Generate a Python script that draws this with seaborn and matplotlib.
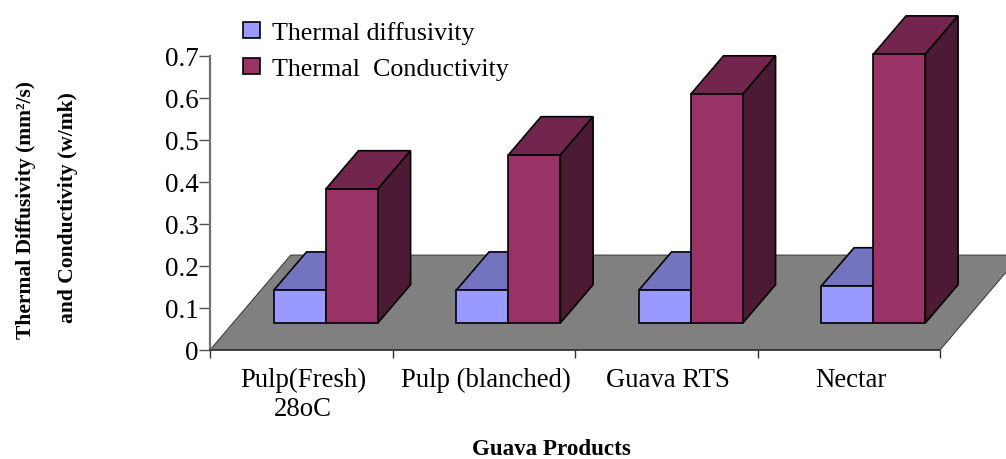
import pandas as pd
import matplotlib.pyplot as plt
from matplotlib.patches import Polygon
from matplotlib.transforms import ScaledTranslation
import seaborn as sns

# values are the bar heights
products = ["Pulp(Fresh)\n28oC", "Pulp (blanched)", "Guava RTS", "Nectar"]
diffusivity = [0.078, 0.078, 0.078, 0.088]
conductivity = [0.319, 0.40, 0.545, 0.64]
series_names = ["Thermal diffusivity", "Thermal  Conductivity"]
y_ticks = [0, 0.1, 0.2, 0.3, 0.4, 0.5, 0.6, 0.7]
y_tick_labels = ["0", "0.1", "0.2", "0.3", "0.4", "0.5", "0.6", "0.7"]

df = pd.DataFrame({
    "product": products * 2,
    "series": [series_names[0]] * 4 + [series_names[1]] * 4,
    "value": diffusivity + conductivity,
})

sns.set_theme(style="white")
plt.rcParams["font.family"] = ["Liberation Serif", "DejaVu Serif"]

W, H = 1006, 460
fig = plt.figure(figsize=(W / 100, H / 100), dpi=100)
ax = fig.add_axes([210 / W, 1 - 351 / H, 730 / W, 294 / H])

# front faces
palette = {series_names[0]: "#9999FF", series_names[1]: "#993366"}
sns.barplot(data=df, x="product", y="value", hue="series", hue_order=series_names,
            palette=palette, saturation=1, width=0.57, gap=0, legend=False,
            edgecolor="black", linewidth=1.2, ax=ax, zorder=3)

ax.set_xlim(-0.5, 3.5)
ax.set_ylim(0, 0.7)

# fake 3D offsets, in data units
bar_shift = 0.135
bar_lift = 0.0645
depth_x = 0.179
depth_y = 0.091
floor_x = 0.442
floor_y = 0.226

top_colors = ["#7373BF", "#73264D"]
side_colors = ["#4D4D80", "#4D1A33"]

floor = Polygon([(-0.5, 0), (3.5, 0), (3.5 + floor_x, floor_y), (-0.5 + floor_x, floor_y)],
                closed=True, facecolor="#808080", edgecolor="#333333", linewidth=0.7,
                clip_on=False, zorder=1)
ax.add_patch(floor)

for i, container in enumerate(ax.containers):
    for bar in container:
        h = bar.get_height()
        x0 = bar.get_x() + bar_shift
        x1 = x0 + bar.get_width()
        y0 = bar_lift
        y1 = bar_lift + h
        bar.set_x(x0)
        bar.set_y(y0)
        bar.set_clip_on(False)
        z = 2 + i * 2
        bar.set_zorder(z + 1)
        top = [(x0, y1), (x1, y1), (x1 + depth_x, y1 + depth_y), (x0 + depth_x, y1 + depth_y)]
        side = [(x1, y0), (x1 + depth_x, y0 + depth_y), (x1 + depth_x, y1 + depth_y), (x1, y1)]
        ax.add_patch(Polygon(top, closed=True, facecolor=top_colors[i], edgecolor="black",
                             linewidth=1.2, clip_on=False, zorder=z))
        ax.add_patch(Polygon(side, closed=True, facecolor=side_colors[i], edgecolor="black",
                             linewidth=1.2, clip_on=False, zorder=z))

# axes
for s in ["top", "right"]:
    ax.spines[s].set_visible(False)
ax.spines["left"].set_color("#707070")
ax.spines["left"].set_linewidth(1.6)
ax.spines["bottom"].set_color("#303030")
ax.spines["bottom"].set_linewidth(1.1)
ax.spines["left"].set_zorder(8)
ax.spines["bottom"].set_zorder(8)
ax.patch.set_visible(False)

ax.set_yticks(y_ticks, labels=y_tick_labels)
ax.tick_params(axis="y", left=True, length=8, width=1, color="#505050", labelsize=19.5, pad=0,
               labelcolor="black")
ax.set_xticks([i - 0.5 for i in range(len(products) + 1)], labels=[])
ax.tick_params(axis="x", which="major", bottom=True, length=6, width=1, color="#303030")
ax.set_xticks(range(len(products)), labels=products, minor=True)
ax.tick_params(axis="x", which="minor", bottom=False, length=0, pad=12, labelsize=19.3,
               labelcolor="black")
ax.set_xlabel("")
ax.set_ylabel("")
nudge = ScaledTranslation(1.5 / 72, 0, fig.dpi_scale_trans)
for lab in ax.get_xticklabels(minor=True):
    lab.set_linespacing(1.2)
    lab.set_transform(lab.get_transform() + nudge)

# titles
fig.text(551 / W, 1 - 450 / H, "Guava Products", ha="center", va="center",
         fontweight="bold", fontsize=16.6, color="black")
fig.text(26 / W, 1 - 210 / H, "Thermal Diffusivity (mm²/s)", rotation=90, ha="center",
         va="center", fontweight="bold", fontsize=15.5, color="black")
fig.text(68 / W, 1 - 208 / H, "and Conductivity (w/mk)", rotation=90, ha="center",
         va="center", fontweight="bold", fontsize=15.5, color="black")

leg = ax.legend(handles=[c[0] for c in ax.containers], labels=series_names,
                loc="upper left", bbox_to_anchor=(243 / W, 1 - 22 / H),
                bbox_transform=fig.transFigure, frameon=False, fontsize=18.7,
                labelcolor="black", handlelength=0.65, handleheight=0.55, handletextpad=0.45,
                labelspacing=0.55, borderpad=0, borderaxespad=0)
leg.set_zorder(20)

fig.savefig("out.png", dpi=100)
